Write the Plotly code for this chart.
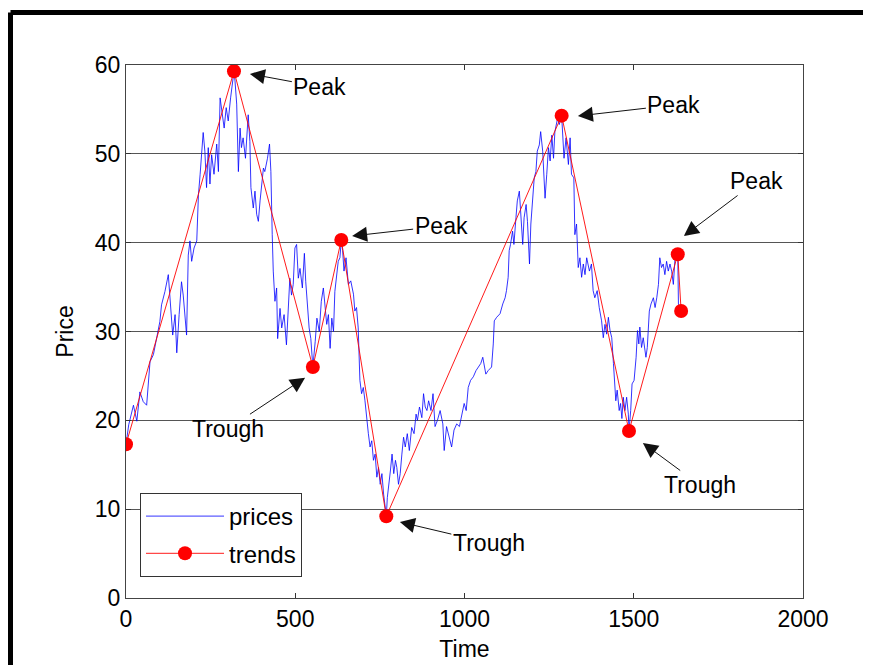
import plotly.graph_objects as go

# ---- data ----
price_t = [0, 8, 22, 32, 41, 51, 61, 71, 81, 91, 100, 105, 115, 125, 130, 138, 145, 150, 157, 164,
           169, 174, 179, 184, 189, 194, 201, 209, 214, 219, 224, 228, 233, 238, 243, 248, 253, 260,
           268, 273, 278, 283, 290, 296, 302, 309, 315, 319,
           322, 327, 332, 337, 341, 346, 353, 361, 366, 369, 376, 381, 386, 391, 396, 401, 406, 410,
           418, 424, 428, 432, 435, 440, 445, 448, 455, 460, 467, 474, 479, 484, 489, 494, 499, 504,
           509, 514, 521, 527, 531, 537, 541, 546, 552, 559, 564, 571, 577, 583, 588, 593, 598, 603,
           608, 613, 617, 622, 627, 632, 636,
           640, 644, 650, 657, 664, 672, 676, 681, 686, 691, 696, 701, 706, 711, 716, 721, 726, 731,
           736, 741, 746, 751, 756, 761, 766, 769, 772, 776, 781, 786, 791, 796, 800, 805, 810, 815,
           820, 825, 831, 837, 844, 851, 857, 861, 867, 874, 879, 884, 889, 894, 901, 907, 913, 920,
           928, 936, 940, 947, 955, 962, 969, 977, 985, 992, 999, 1005,
           1011, 1018, 1026, 1034, 1041, 1048, 1054, 1058, 1063, 1070, 1080, 1085, 1088, 1095, 1105,
           1113, 1120, 1124, 1129, 1132, 1136, 1142, 1146, 1152, 1156, 1162, 1166, 1172, 1176, 1182,
           1186, 1192, 1196, 1202, 1206, 1211, 1215, 1221, 1225, 1231, 1238, 1243, 1248, 1253, 1258,
           1263, 1267, 1275, 1280, 1287,
           1290, 1294, 1300, 1307, 1312, 1316, 1323, 1326, 1331, 1336, 1341, 1346, 1351, 1356, 1361,
           1369, 1375, 1380, 1385, 1392, 1398, 1405, 1410, 1415, 1420, 1425, 1430, 1435, 1440, 1444,
           1447, 1451, 1457, 1461, 1465, 1469, 1474, 1479, 1484, 1486, 1491, 1495, 1501, 1507, 1511,
           1515, 1518, 1523, 1528, 1536, 1540, 1546, 1551, 1558, 1563, 1568, 1573, 1577, 1582, 1587,
           1592, 1597, 1602, 1607, 1612, 1617, 1622, 1627, 1630, 1632, 1636, 1640]
price_v = [17.3, 19.5, 21.7, 19.9, 23.2, 22.1, 21.7, 26.6, 27.4, 29.2, 31.1, 33.0, 34.5, 36.4, 34.1,
           29.6, 31.9, 27.6, 31.9, 35.6, 34.1, 31.9, 29.6, 38.6, 40.2, 37.9, 39.4, 40.2, 45.4, 47.7,
           49.9, 52.4, 50.3, 46.2, 50.7, 46.6, 49.9, 47.7, 51.1, 48.0, 56.3, 54.8, 52.9, 55.2, 53.7,
           56.3, 58.2, 59.3,
           58.2, 55.6, 48.0, 52.9, 50.7, 51.8, 49.5, 54.4, 51.4, 46.2, 43.9, 45.8, 43.2, 42.4, 44.7,
           46.9, 48.4, 48.0, 49.5, 51.1, 48.0, 40.9, 36.8, 33.4, 34.9, 29.2, 32.6, 30.4, 31.9, 28.5,
           32.6, 36.0, 34.1, 35.3, 39.4, 39.8, 36.0, 37.1, 34.9, 38.8, 35.6, 32.3, 30.4, 29.2, 26.0,
           28.9, 31.5, 30.0, 33.4, 34.9, 32.6, 30.8, 31.9, 28.1, 31.5, 30.0, 34.5, 36.4, 37.9, 38.3,
           40.3,
           39.1, 36.8, 38.3, 35.3, 35.7, 34.2, 32.3, 32.7, 30.4, 24.5, 23.0, 23.7, 22.2, 20.0, 18.5,
           17.0, 17.7, 15.5, 16.2, 13.6, 14.7, 12.8, 14.0, 11.7, 10.2, 9.2, 11.3, 12.5, 14.3, 16.2,
           14.0, 15.5, 14.7, 12.8, 14.0, 16.2, 18.1, 17.0, 18.5, 16.6, 19.2, 18.5, 20.7, 20.0, 21.5,
           20.3, 23.0, 21.5, 21.1, 22.2, 21.1, 23.0, 19.3, 20.0, 21.1, 19.6, 16.6, 19.3, 18.1, 17.0,
           18.9, 19.6, 19.3, 20.7, 21.9, 21.1,
           23.7, 24.5, 24.9, 25.6, 26.0, 26.4, 27.1, 26.0, 25.2, 25.6, 26.0, 28.6, 31.2, 31.6, 32.0,
           33.1, 33.8, 34.6, 36.1, 39.1, 39.8, 41.3, 39.8, 42.8, 44.7, 45.8, 43.6, 39.8, 42.8, 44.3,
           42.4, 37.6, 42.1, 44.7, 47.3, 48.0, 50.3, 51.0, 52.5, 50.3, 45.0, 47.7, 50.7, 49.2, 52.1,
           49.5, 52.5, 54.0, 53.3, 54.3,
           51.8, 49.5, 51.8, 48.8, 51.8, 47.7, 47.3, 40.9, 42.1, 37.2, 38.3, 36.1, 37.6, 36.4, 38.3,
           36.8, 37.6, 34.6, 33.8, 34.6, 32.7, 31.2, 29.3, 30.8, 29.7, 31.6, 30.1, 29.3, 26.4, 24.5,
           22.2, 23.4, 21.1, 21.9, 20.2, 22.6, 21.1, 22.6, 20.7, 18.8, 21.1, 24.1, 24.5, 27.1, 30.1,
           28.6, 30.5, 28.2, 29.3, 27.1, 28.2, 32.3, 33.1, 33.8, 32.7, 33.8, 35.3, 38.3, 37.2, 37.6,
           36.4, 37.9, 36.8, 37.6, 36.8, 35.3, 38.3, 38.0, 38.7, 33.1, 32.8, 32.3]

trend_t = [0, 319, 552, 636, 769, 1287, 1486, 1630, 1640]
trend_v = [17.3, 59.3, 26.0, 40.3, 9.2, 54.3, 18.8, 38.7, 32.3]

# annotation: label, arrow tip (t, v), text offset in px (dx, dy)
ann_text = ["Peak", "Peak", "Trough", "Trough", "Peak", "Trough", "Peak"]
ann_tip_t = [366, 668, 529, 809, 1335, 1527, 1648]
ann_tip_v = [59.0, 40.75, 24.8, 8.56, 54.26, 17.45, 40.75]
ann_dx = [70, 89, -77, 89, 96, 57, 73]
ann_dy = [13, -10, 51, 21, -11, 42, -55]

x_ticks = [0, 500, 1000, 1500, 2000]
y_ticks = [0, 10, 20, 30, 40, 50, 60]

FONT = "Liberation Sans, Arial, sans-serif"
OFF = 8  # page body margin
W, H = 871 - OFF, 665 - OFF
ML, MT = 126 - OFF, 65 - OFF
PW, PH = 677, 533
MR, MB = W - ML - PW, H - MT - PH

fig = go.Figure()
fig.add_trace(go.Scatter(x=price_t, y=price_v, mode="lines", name="prices",
                         line=dict(color="#0000ff", width=0.8), legendgroup="a"))
fig.add_trace(go.Scatter(x=trend_t, y=trend_v, mode="lines+markers", name="trends",
                         line=dict(color="#ff0000", width=0.9),
                         marker=dict(color="#ff0000", size=14), legendgroup="b"))

for txt, tt, tv, dx, dy in zip(ann_text, ann_tip_t, ann_tip_v, ann_dx, ann_dy):
    fig.add_annotation(x=tt, y=tv, text=txt, showarrow=True, ax=dx, ay=dy,
                       arrowhead=2, arrowsize=3, arrowwidth=1, arrowcolor="#111111",
                       standoff=0, font=dict(family=FONT, size=23, color="black"))

def px_x(p):
    # page pixel -> paper fraction
    return (p - OFF - ML) / PW

def px_y(p):
    return (H - MB - (p - OFF)) / PH

# outer black frame (top and left edges)
frame = dict(color="black", width=5)
fig.add_shape(type="line", xref="paper", yref="paper", x0=px_x(10.5), x1=px_x(880),
              y0=px_y(12.5), y1=px_y(12.5), line=frame)
fig.add_shape(type="line", xref="paper", yref="paper", x0=px_x(10.5), x1=px_x(10.5),
              y0=px_y(12.5), y1=px_y(680), line=frame)

axis_common = dict(showline=True, linecolor="#444444", linewidth=1, mirror="ticks",
                   ticks="inside", ticklen=5, tickcolor="#333333", zeroline=False,
                   automargin=False,
                   tickfont=dict(family=FONT, size=23, color="black"))

fig.update_layout(
    width=W, height=H,
    margin=dict(l=ML, r=MR, t=MT, b=MB, autoexpand=False),
    paper_bgcolor="white", plot_bgcolor="white",
    font=dict(family=FONT, size=23, color="black"),
    showlegend=True,
    legend=dict(x=px_x(140), y=px_y(493), xanchor="left", yanchor="top",
                bordercolor="#333333", borderwidth=1, bgcolor="white",
                font=dict(family=FONT, size=24, color="black"),
                tracegroupgap=3, traceorder="grouped", itemwidth=78),
    xaxis=dict(range=[0, 2000], tickvals=x_ticks, showgrid=False,
               title=dict(text="Time", standoff=10, font=dict(family=FONT, size=23)),
               **axis_common),
    yaxis=dict(range=[0, 60], tickvals=y_ticks, showgrid=True, gridcolor="#555555",
               gridwidth=1,
               title=dict(text="Price", standoff=14, font=dict(family=FONT, size=23)),
               **axis_common),
)

fig.write_html("out.html")
